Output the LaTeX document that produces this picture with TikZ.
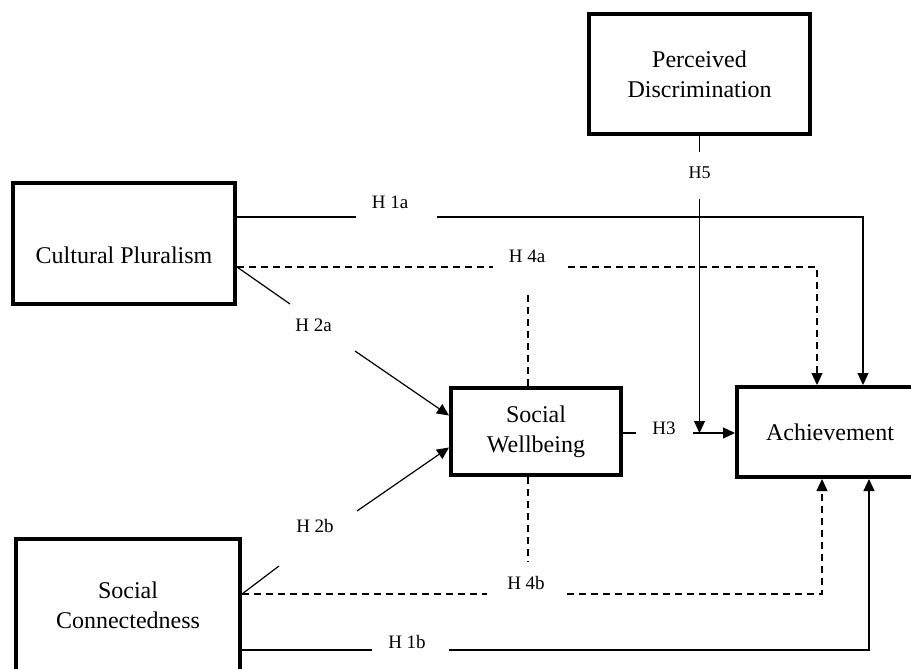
\documentclass[tikz,border=0pt]{standalone}
\usepackage{fontspec}
\setmainfont{Liberation Serif}
\usetikzlibrary{positioning}
\usetikzlibrary{calc}
\usetikzlibrary{arrows.meta}

\begin{document}
\begin{tikzpicture} [
    x=1pt, y=-1pt,              % one unit per reference pixel, y going down
    ]
% -------------------------------------------------
\tikzset{
  box/.style={draw, line width=4pt, align=center, font=\fontsize{24}{30}\selectfont},
  txt/.style={align=center, font=\fontsize{24}{30}\selectfont},
  hyp/.style={inner sep=0pt, font=\fontsize{19}{22}\selectfont},
  line/.style={draw, line width=1.2pt},
  dline/.style={line, dash pattern=on 7pt off 5pt},
  arr/.style={-{Triangle[length=12pt,width=11pt]}}
}

    \useasboundingbox (0,0) rectangle (911,669);
    \clip (0,0) rectangle (911,669);

    \node [box, minimum width=221pt, minimum height=120pt] (pd) at (699.5,74) {Perceived\\Discrimination};
    \node [box, minimum width=222pt, minimum height=121pt] (cp) at (124,243.5) {};
    \node [txt] (cpt) at ([yshift=-12pt]cp.center) {Cultural Pluralism};
    \node [box, minimum width=170pt, minimum height=87pt] (sw) at (536,431.5) {Social\\Wellbeing};
    \node [box, minimum width=186pt, minimum height=90pt] (ach) at (830,432) {Achievement};
    \node [box, minimum width=224pt, minimum height=132pt] (sc) at (128,605) {Social\\Connectedness};

    \node [hyp] (h1a) at (390,202.5) {H 1a};
    \node [hyp] (h4a) at (527,256) {H 4a};
    \node [hyp] (h2a) at (313.5,325) {H 2a};
    \node [hyp] (h2b) at (315,525.5) {H 2b};
    \node [hyp] (h4b) at (526,583) {H 4b};
    \node [hyp] (h1b) at (407,642) {H 1b};
    \node [hyp] (h3) at (664,428.5) {H3};
    \node [hyp, font=\fontsize{18}{20}\selectfont] (h5) at (699.5,172.5) {H5};

    \coordinate (h1aL) at (356,217);  \coordinate (h1aR) at (437,217);  \coordinate (h1aT) at (863,217);
    \coordinate (h4aL) at (493,267);  \coordinate (h4aR) at (568,267);  \coordinate (h4aT) at (817,267);
    \coordinate (h4aV) at (528,295);
    \coordinate (h2aL) at (290,304);  \coordinate (h2aR) at (355,351);
    \coordinate (h2bL) at (279,566);  \coordinate (h2bR) at (357,511);
    \coordinate (h4bL) at (487,594);  \coordinate (h4bR) at (567,594);  \coordinate (h4bT) at (822,594);
    \coordinate (h4bV) at (528,562);
    \coordinate (h1bL) at (372,650);  \coordinate (h1bR) at (449,650);  \coordinate (h1bT) at (869,650);
    \coordinate (h3L) at (636,433);   \coordinate (h3R) at (693,433);
    \coordinate (h5U) at (699,152);   \coordinate (h5D) at (699,199);

    \path [line] (cp.east |- h1aL) -- (h1aL);                          % H 1a
    \path [line, arr] (h1aR) -- (h1aT) -- (h1aT |- ach.north);
    \path [dline] (cp.east |- h4aL) -- (h4aL);                         % H 4a
    \path [dline, arr] (h4aR) -- (h4aT) -- (h4aT |- ach.north);
    \path [dline] (sw.north -| h4aV) -- (h4aV);
    \path [line] (cp.east |- h4aL) -- (h2aL);                          % H 2a
    \path [line, arr] (h2aR) -- ([yshift=16pt]sw.west);
    \path [line] (sc.east |- h4bL) -- (h2bL);                          % H 2b
    \path [line, arr] (h2bR) -- ([yshift=-16pt]sw.west);
    \path [dline] (sc.east |- h4bL) -- (h4bL);                         % H 4b
    \path [dline, arr] (h4bR) -- (h4bT) -- (h4bT |- ach.south);
    \path [dline] (sw.south -| h4bV) -- (h4bV);
    \path [line] (sc.east |- h1bL) -- (h1bL);                          % H 1b
    \path [line, arr] (h1bR) -- (h1bT) -- (h1bT |- ach.south);
    \path [line] (sw.east |- h3L) -- (h3L);                            % H3
    \path [line, arr] (h3R) -- (ach.west |- h3R);
    \path [line] (pd.south) -- (pd.south |- h5U);                      % H5
    \path [line, arr] (pd.south |- h5D) -- (pd.south |- h3R);

\end{tikzpicture}
\end{document}
